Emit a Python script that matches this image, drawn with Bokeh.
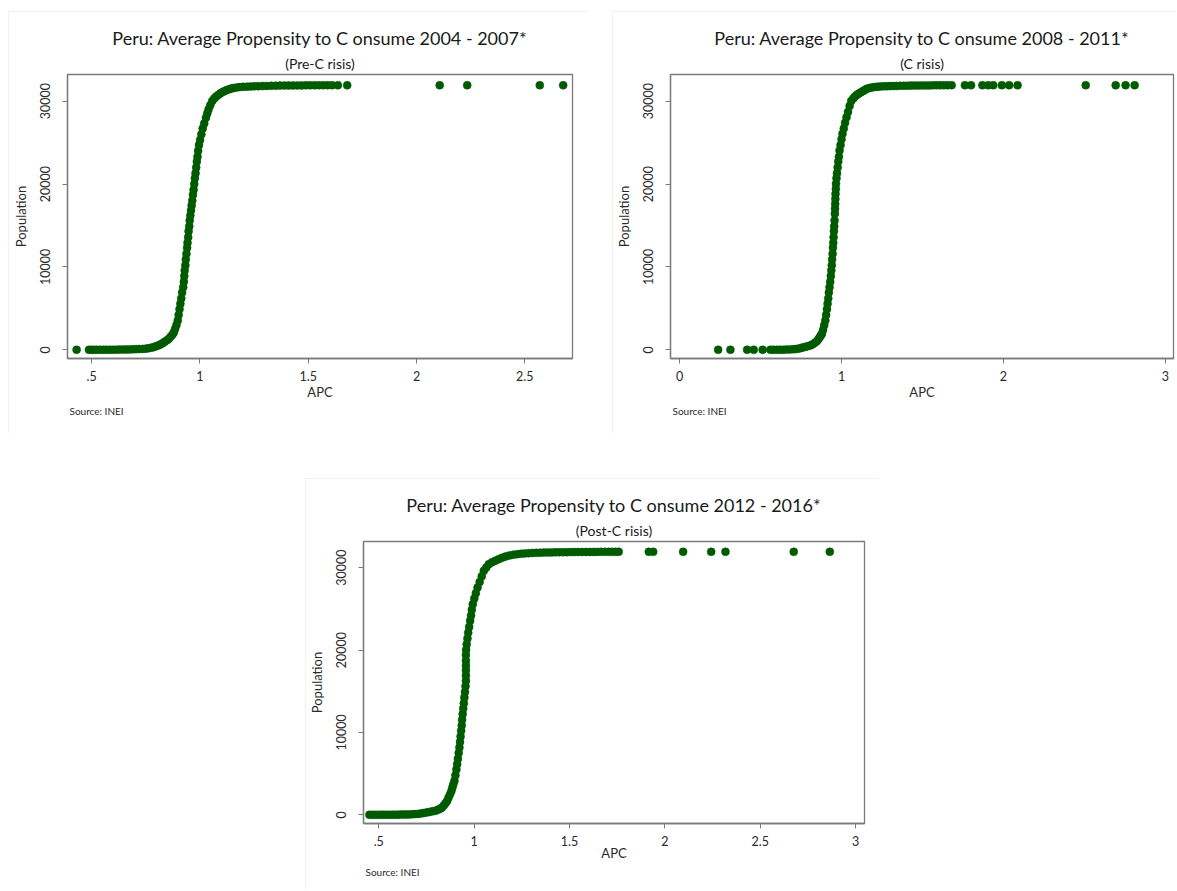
from bokeh.plotting import figure
from bokeh.models import Range1d, FixedTicker, Title, Spacer, CustomJSTickFormatter
from bokeh.layouts import column, row
from bokeh.embed import file_html
from bokeh.resources import INLINE

# ---------------- data ----------------
p1_apc = [0.431, 0.488, 0.500, 0.512, 0.525, 0.540, 0.555, 0.570, 0.585, 0.600, 0.615, 0.630, 0.645, 0.660,
          0.675, 0.690, 0.705, 0.720, 0.735, 0.750, 0.762, 0.774, 0.786, 0.797, 0.808, 0.818, 0.828, 0.838,
          0.848, 0.857, 0.866, 0.874, 0.880, 0.886, 0.892, 0.898, 0.902, 0.906, 0.910, 0.914, 0.918, 0.923,
          0.926, 0.928, 0.930, 0.933, 0.935, 0.938, 0.941, 0.943, 0.946, 0.948, 0.951, 0.953, 0.956, 0.959,
          0.962, 0.965, 0.968, 0.971, 0.974, 0.977, 0.980, 0.983, 0.986, 0.989, 0.992, 0.996, 1.001, 1.007,
          1.013, 1.020, 1.028, 1.034, 1.040, 1.048, 1.057, 1.066, 1.075, 1.085, 1.095, 1.105, 1.115, 1.125,
          1.135, 1.145, 1.155, 1.170, 1.185, 1.200, 1.217, 1.234, 1.252, 1.270, 1.290, 1.310, 1.330, 1.350,
          1.370, 1.390, 1.410, 1.430, 1.450, 1.470, 1.490, 1.510, 1.530, 1.550, 1.570, 1.590, 1.610, 1.637,
          1.680, 2.107, 2.234, 2.569, 2.677]
p1_pop = [0, 0, 0, 0, 0, 5, 5, 10, 10, 15, 20, 25, 30, 40,
          50, 60, 75, 90, 110, 140, 180, 240, 320, 420, 520, 640, 800, 980,
          1150, 1330, 1600, 1850, 2120, 2550, 3000, 3530, 4200, 4900, 5550, 6200, 6900, 7550,
          8200, 8900, 9570, 10200, 10900, 11580, 12300, 12900, 13590, 14300, 14900, 15600, 16200, 16800,
          17400, 18000, 18700, 19300, 20000, 20700, 21300, 22000, 22700, 23300, 24000, 24700, 25300, 26000,
          26700, 27300, 28000, 28500, 29000, 29500, 30000, 30300, 30550, 30750, 30950, 31100, 31230, 31340,
          31430, 31510, 31580, 31640, 31690, 31720, 31745, 31765, 31785, 31800, 31815, 31830, 31845, 31858,
          31868, 31876, 31882, 31888, 31893, 31897, 31900, 31903, 31906, 31909, 31912, 31914, 31916, 31917,
          31918, 31918, 31918, 31918, 31918]

p2_apc = [0.238, 0.314, 0.417, 0.458, 0.513, 0.561, 0.580, 0.600, 0.620, 0.640, 0.660, 0.680, 0.700, 0.715,
          0.730, 0.746, 0.760, 0.775, 0.790, 0.807, 0.820, 0.834, 0.848, 0.858, 0.866, 0.873, 0.879, 0.886,
          0.893, 0.900, 0.905, 0.910, 0.914, 0.918, 0.922, 0.926, 0.930, 0.934, 0.937, 0.940, 0.942, 0.945,
          0.947, 0.949, 0.951, 0.953, 0.955, 0.957, 0.959, 0.960, 0.961, 0.962, 0.963, 0.965, 0.966, 0.969,
          0.972, 0.976, 0.980, 0.984, 0.988, 0.994, 1.000, 1.006, 1.014, 1.022, 1.031, 1.040, 1.050, 1.060,
          1.072, 1.083, 1.094, 1.105, 1.118, 1.131, 1.144, 1.157, 1.172, 1.188, 1.205, 1.222, 1.240, 1.260,
          1.280, 1.300, 1.320, 1.340, 1.362, 1.385, 1.408, 1.430, 1.452, 1.475, 1.498, 1.520, 1.542, 1.565,
          1.588, 1.610, 1.632, 1.655, 1.680, 1.762, 1.800, 1.870, 1.906, 1.937, 1.990, 2.035, 2.087, 2.508,
          2.693, 2.754, 2.810]
p2_pop = [0, 0, 0, 0, 0, 0, 0, 5, 10, 15, 25, 40, 60, 85,
          120, 200, 270, 350, 430, 520, 650, 820, 1040, 1300, 1550, 1750, 1930, 2400,
          2950, 3530, 4200, 4900, 5550, 6200, 6900, 7550, 8200, 8900, 9570, 10200, 10900, 11580,
          12300, 12900, 13590, 14300, 14900, 15600, 16400, 17000, 17600, 18200, 18800, 19400, 20020, 20700,
          21300, 22000, 22700, 23300, 24040, 24700, 25400, 26050, 26700, 27400, 28060, 28700, 29400, 30000,
          30300, 30550, 30740, 30880, 31050, 31200, 31350, 31480, 31580, 31650, 31700, 31735, 31760, 31780,
          31795, 31808, 31820, 31832, 31842, 31852, 31860, 31868, 31875, 31881, 31886, 31891, 31896, 31900,
          31905, 31909, 31913, 31916, 31918, 31918, 31918, 31918, 31918, 31918, 31918, 31918, 31918, 31918,
          31918, 31918, 31918]

p3_apc = [0.451, 0.465, 0.480, 0.495, 0.510, 0.525, 0.540, 0.555, 0.570, 0.585, 0.600, 0.615, 0.630, 0.645,
          0.660, 0.675, 0.690, 0.705, 0.720, 0.735, 0.750, 0.765, 0.781, 0.797, 0.810, 0.822, 0.832, 0.842,
          0.851, 0.859, 0.866, 0.874, 0.881, 0.886, 0.891, 0.897, 0.902, 0.907, 0.911, 0.915, 0.919, 0.923,
          0.926, 0.929, 0.932, 0.935, 0.937, 0.940, 0.943, 0.946, 0.949, 0.952, 0.955, 0.957, 0.957, 0.957,
          0.957, 0.957, 0.957, 0.958, 0.961, 0.965, 0.969, 0.974, 0.979, 0.984, 0.988, 0.993, 1.001, 1.009,
          1.018, 1.029, 1.040, 1.051, 1.064, 1.077, 1.094, 1.111, 1.129, 1.147, 1.165, 1.185, 1.205, 1.225,
          1.245, 1.265, 1.286, 1.306, 1.326, 1.346, 1.366, 1.386, 1.406, 1.426, 1.446, 1.466, 1.486, 1.506,
          1.526, 1.546, 1.566, 1.586, 1.606, 1.626, 1.646, 1.666, 1.686, 1.706, 1.722, 1.741, 1.758, 1.916,
          1.939, 2.096, 2.243, 2.318, 2.676, 2.865]
p3_pop = [0, 0, 0, 0, 0, 0, 5, 5, 10, 15, 20, 25, 30, 40,
          50, 65, 85, 110, 150, 210, 280, 350, 420, 485, 600, 740, 890, 1150,
          1420, 1700, 2100, 2500, 2900, 3300, 3700, 4130, 4800, 5500, 6150, 6800, 7500, 8170,
          8850, 9500, 10190, 10850, 11550, 12220, 12900, 13550, 14240, 14900, 15600, 16260, 16900, 17500,
          18100, 18700, 19400, 20020, 20700, 21400, 22100, 22800, 23540, 24200, 24900, 25560, 26250, 26900,
          27590, 28250, 28950, 29610, 30020, 30420, 30640, 30840, 31030, 31200, 31350, 31470, 31560, 31630,
          31680, 31720, 31750, 31775, 31795, 31812, 31826, 31838, 31848, 31857, 31865, 31872, 31878, 31883,
          31888, 31893, 31897, 31901, 31904, 31907, 31909, 31911, 31913, 31915, 31916, 31917, 31918, 31918,
          31918, 31918, 31918, 31918, 31918, 31918]

titles = ["Peru: Average Propensity to C onsume 2004 - 2007*",
          "Peru: Average Propensity to C onsume 2008 - 2011*",
          "Peru: Average Propensity to C onsume 2012 - 2016*"]
subtitles = ["(Pre-C risis)", "(C risis)", "(Post-C risis)"]
x_ticks = [[0.5, 1, 1.5, 2, 2.5], [0, 1, 2, 3], [0.5, 1, 1.5, 2, 2.5, 3]]
y_ticks = [0, 10000, 20000, 30000]
x_title = "APC"
y_title = "Population"
source_note = "Source: INEI"

# ---------------- styling ----------------
FONT = "Lato"
GREEN = "#005a00"
AX = "#7a7a7a"
TXT = "#2a2a2a"

fmt_code = "return (tick > 0 && tick < 1) ? String(tick).substring(1) : String(tick);"


def make_panel(apc, pop, title, subtitle, xticks, xr, yr, w, h, mb, apc_standoff):
    p = figure(width=w, height=h, output_backend="svg", toolbar_location=None,
               x_range=Range1d(*xr), y_range=Range1d(*yr),
               min_border_left=mb[0], min_border_right=mb[1],
               min_border_top=mb[2], min_border_bottom=mb[3])
    p.title = None
    p.background_fill_color = "white"
    p.border_fill_color = "white"
    p.outline_line_color = AX
    p.outline_line_width = 1.3
    p.xgrid.visible = False
    p.ygrid.visible = False
    p.styles = {"outline": "1px solid #ececec", "outline-offset": "-1px"}

    p.scatter(apc, pop, size=8, marker="circle", fill_color=GREEN, line_color=GREEN, line_width=0.5)

    for ax in (p.xaxis[0], p.yaxis[0]):
        ax.axis_line_color = AX
        ax.axis_line_width = 1.3
        ax.major_tick_line_color = AX
        ax.major_tick_out = 5
        ax.major_tick_in = 0
        ax.minor_tick_line_color = None
        ax.major_label_text_font = FONT
        ax.major_label_text_font_size = "12.5px"
        ax.major_label_text_color = TXT
        ax.formatter = CustomJSTickFormatter(code=fmt_code)
        ax.axis_label_text_font = FONT
        ax.axis_label_text_font_style = "normal"
        ax.axis_label_text_color = TXT
    xa, ya = p.xaxis[0], p.yaxis[0]
    xa.ticker = FixedTicker(ticks=xticks, minor_ticks=[])
    ya.ticker = FixedTicker(ticks=y_ticks, minor_ticks=[])
    xa.major_label_standoff = 7
    ya.major_label_standoff = 12
    ya.major_label_orientation = "vertical"
    xa.axis_label = x_title
    xa.axis_label_text_font_size = "13px"
    xa.axis_label_standoff = apc_standoff
    ya.axis_label = y_title
    ya.axis_label_text_font_size = "13px"
    ya.axis_label_standoff = 9

    p.add_layout(Title(text=subtitle, align="center", text_font=FONT, text_font_size="14px",
                       text_font_style="normal", text_color="#1a1a1a", standoff=6), "above")
    p.add_layout(Title(text=title, align="center", text_font=FONT, text_font_size="18px",
                       text_font_style="normal", text_color="#1a1a1a", standoff=2), "above")
    p.add_layout(Title(text=source_note, align="left", offset=2, text_font=FONT, text_font_size="10px",
                       text_font_style="normal", text_color=TXT, standoff=0), "below")
    return p


p1 = make_panel(p1_apc, p1_pop, titles[0], subtitles[0], x_ticks[0],
                (0.389, 2.72), (-1050, 33210), 580, 422, (59, 16, 63, 75), 0)
p2 = make_panel(p2_apc, p2_pop, titles[1], subtitles[1], x_ticks[1],
                (-0.056, 3.05), (-1050, 33210), 564, 422, (58, 3, 63, 75), 0)
p3 = make_panel(p3_apc, p3_pop, titles[2], subtitles[2], x_ticks[2],
                (0.42, 3.047), (-1056, 33170), 573, 412, (58, 14, 63, 67), -4)

layout = column(
    Spacer(height=11),
    row(Spacer(width=8), p1, Spacer(width=24), p2),
    Spacer(height=45),
    row(Spacer(width=305), p3),
)

open("out.html", "w").write(file_html(layout, INLINE))
